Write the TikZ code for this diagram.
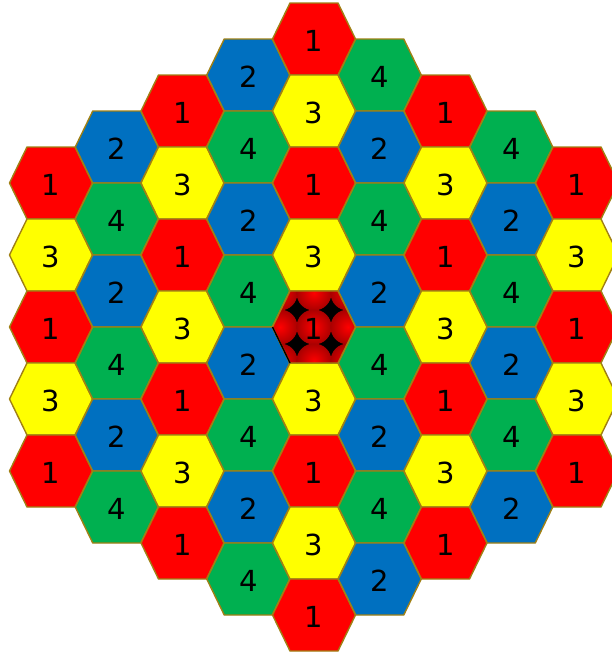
\documentclass[tikz,border=0pt]{standalone}
\usepackage{fontspec}
\setmainfont{DejaVu Sans}
\usepackage{tikz}
\usetikzlibrary{calc}

\definecolor{hexline}{RGB}{160,128,20}
\definecolor{col1}{HTML}{FF0000}
\definecolor{col2}{HTML}{0070C0}
\definecolor{col3}{HTML}{FFFF00}
\definecolor{col4}{HTML}{00B050}
\definecolor{darkspot}{RGB}{170,0,0}

\tikzset{
  pics/hexcell/.style={code={
    \path[pic actions] (-41.5,0) -- (-24,36) -- (24,36) -- (41.5,0) -- (24,-36) -- (-24,-36) -- cycle;
  }},
  cellbox/.style={draw=hexline, line width=1.4pt, line join=round},
  digit/.style={font=\fontsize{29}{30}\selectfont, inner sep=0pt, yshift=-2pt}
}

\begin{document}
\begin{tikzpicture}[x=1pt, y=-1pt]
  \useasboundingbox (0,0) rectangle (611,653);
  % the tiles, column by column
  \foreach \q in {-4,...,4}{
    \pgfmathtruncatemacro\n{9-abs(\q)}
    \foreach \k in {1,...,\n}{
      \pgfmathtruncatemacro\v{mod(abs(\q),2)==0 ? (mod(\k,2)==1 ? 1 : 3) : (\q>0 ? (mod(\k,2)==1 ? 4 : 2) : (mod(\k,2)==1 ? 2 : 4))}
      \pgfmathsetmacro\cx{314+65.75*\q}
      \pgfmathsetmacro\cy{327+72*(\k-(\n+1)/2)}
      \pic[cellbox, fill=col\v] at (\cx,\cy) {hexcell};
    }
  }
  % the middle tile
  \begin{scope}
    \clip (314-41.5,327) -- (314-24,327+36) -- (314+24,327+36) -- (314+41.5,327) -- (314+24,327-36) -- (314-24,327-36) -- cycle;
    \fill[black] (314-42,327-37) rectangle (314+42,327+37);
    \foreach \dx in {-34,0,34}
      \foreach \dy in {-34,0,34}
        \shade[inner color=col1, outer color=darkspot] (314+\dx,327+\dy) circle (17.5);
  \end{scope}
  \pic[cellbox] at (314,327) {hexcell};
  \draw[black, line width=1.4pt] (314-41.5,327) -- (314-24,327+36);
  % the numbers
  \foreach \q in {-4,...,4}{
    \pgfmathtruncatemacro\n{9-abs(\q)}
    \foreach \k in {1,...,\n}{
      \pgfmathtruncatemacro\v{mod(abs(\q),2)==0 ? (mod(\k,2)==1 ? 1 : 3) : (\q>0 ? (mod(\k,2)==1 ? 4 : 2) : (mod(\k,2)==1 ? 2 : 4))}
      \pgfmathsetmacro\cx{314+65.75*\q}
      \pgfmathsetmacro\cy{327+72*(\k-(\n+1)/2)}
      \node[digit] (cell\q-\k) at (\cx,\cy) {\v};
    }
  }
\end{tikzpicture}
\end{document}
